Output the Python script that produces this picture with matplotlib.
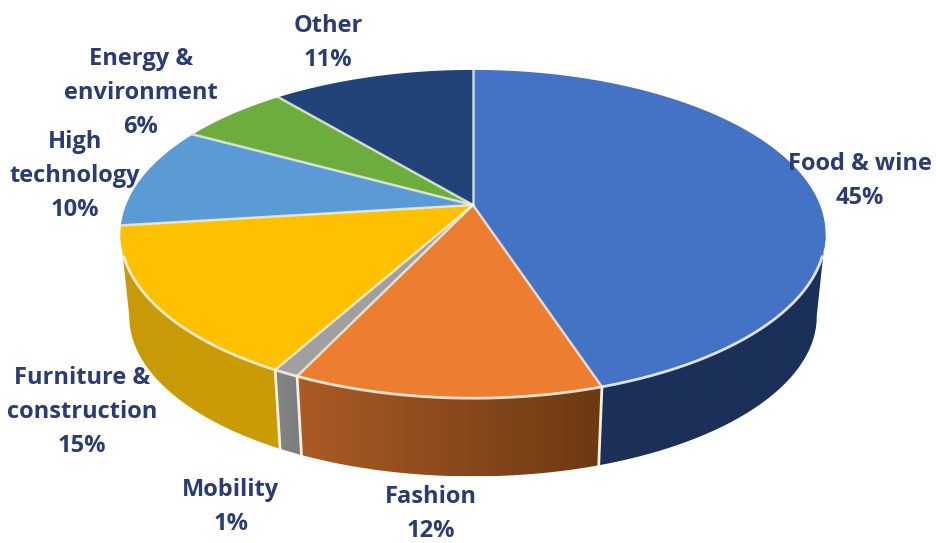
import numpy as np
import matplotlib
matplotlib.use("Agg")
import matplotlib.pyplot as plt
from matplotlib.colors import LinearSegmentedColormap
from matplotlib.patches import Polygon

sectors = ["Food & wine", "Fashion", "Mobility", "Furniture &\nconstruction",
           "High\ntechnology", "Energy &\nenvironment", "Other"]
shares = [45, 12, 1, 15, 10, 6, 11]

top_colors = ["#4472C4", "#ED7D31", "#A0A0A0", "#FFC000", "#5B9BD5", "#6DAD3D", "#224377"]
# left and right colour of the outer wall, only the front slices have one
wall_colors = {
    0: ("#1B3059", "#1B3059"),
    1: ("#AB5B25", "#6C3913"),
    2: ("#858585", "#7B7B7B"),
    3: ("#C99A08", "#CC9C05"),
}
label_centers = [(860, 181), (431, 514), (231, 507), (82, 412), (75, 176), (141, 93), (328, 43)]

# projection of the tilted disc
cx, cy = 473, 205
a, b, k = 347, 159, 0.177
shrink, depth = 0.975, 83
edge = "#F3F0E4"


def rim(start, stop, n=150):
    # clockwise angles from twelve o'clock, in degrees
    t = np.radians(np.linspace(start, stop, n))
    w = 1 + k * np.cos(t)
    return cx + a * np.sin(t) / w, cy - b * np.cos(t) / w


def lower(x, y):
    return cx + shrink * (x - cx), cy + depth + shrink * (y - cy)


fig = plt.figure(figsize=(9.36, 5.43), dpi=100)
ax = fig.add_axes([0, 0, 1, 1])
ax.axis("off")

bounds = np.concatenate([[0], np.cumsum(shares)]) * 3.6

# outer walls first, the top face goes over them
for i, (c_left, c_right) in wall_colors.items():
    # the outer two walls stop where their side edge is the silhouette
    start = 100 if i == 0 else bounds[i]
    stop = 260 if i == 3 else bounds[i + 1]
    x, y = rim(start, stop)
    xl, yl = lower(x, y)
    pts = np.column_stack([np.r_[x, xl[::-1]], np.r_[y, yl[::-1]]])
    cmap = LinearSegmentedColormap.from_list("wall", [c_left, c_right])
    grad = np.linspace(0, 1, 256).reshape(1, -1)
    extent = [pts[:, 0].min(), pts[:, 0].max(), pts[:, 1].max(), pts[:, 1].min()]
    im = ax.imshow(grad, cmap=cmap, extent=extent, aspect="auto", zorder=2)
    patch = Polygon(pts, closed=True, transform=ax.transData, fc="none", ec="none")
    ax.add_patch(patch)
    im.set_clip_path(patch)

# separators between the walls
for ang in bounds[1:4]:
    x, y = rim(ang, ang, 1)
    xl, yl = lower(x, y)
    ax.plot([x[0], xl[0]], [y[0], yl[0]], color=edge, lw=2, zorder=3)

ax.set_xlim(0, 936)
ax.set_ylim(543, 0)

# top face
for i, color in enumerate(top_colors):
    x, y = rim(bounds[i], bounds[i + 1])
    pts = np.column_stack([np.r_[cx, x], np.r_[cy, y]])
    ax.add_patch(Polygon(pts, closed=True, fc=color, ec="none", zorder=4))

for ang in bounds[:-1]:
    x, y = rim(ang, ang, 1)
    ax.plot([cx, x[0]], [cy, y[0]], color=edge, lw=1.8, alpha=0.8, zorder=5)

# light line where the top face meets the walls
x, y = rim(108, 252)
ax.plot(x, y, color=edge, lw=2, alpha=0.9, zorder=5)

for name, share, (lx, ly) in zip(sectors, shares, label_centers):
    ax.text(lx, ly, f"{name}\n{share}%", ha="center", va="center", multialignment="center",
            family="Open Sans", fontweight="bold", fontsize=17, color="#2B3C70",
            linespacing=1.55, zorder=6)

fig.savefig("out.png", dpi=100)
